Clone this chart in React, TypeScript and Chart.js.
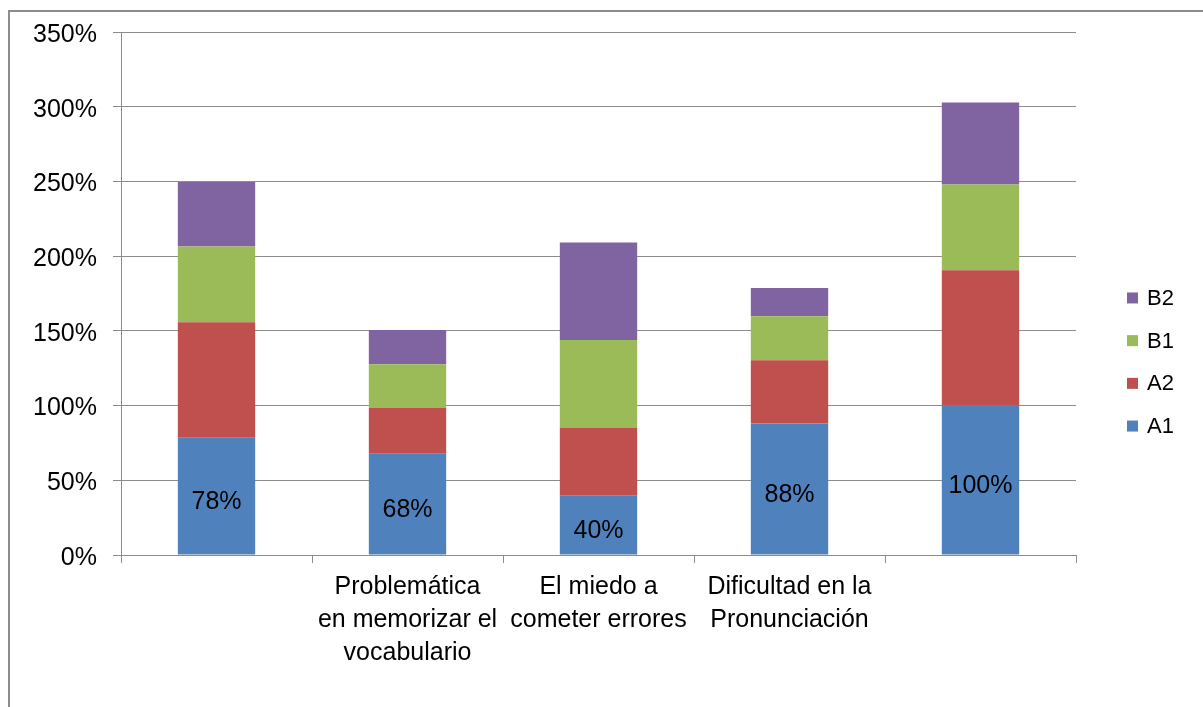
import React, { useEffect, useRef } from 'react';
import { Chart, registerables } from 'chart.js';

Chart.register(...registerables);

const categories: string[][] = [
  [''],
  ['Problemática', 'en memorizar el', 'vocabulario'],
  ['El miedo a', 'cometer errores'],
  ['Dificultad en la', 'Pronunciación'],
  [''],
];
const seriesNames = ['A1', 'A2', 'B1', 'B2'];
const seriesColors = ['#4F81BD', '#C0504D', '#9BBB59', '#8064A2'];
const a1 = [78.5, 67.8, 40, 88, 100];
const a2 = [77.3, 30.6, 45, 42.4, 90.6];
const b1 = [50.7, 29.3, 58.8, 29.4, 57.4];
const b2 = [43.1, 22.8, 65.4, 18.8, 54.9];
const a1Labels = ['78%', '68%', '40%', '88%', '100%'];
const yMin = 0;
const yMax = 350;
const yStep = 50;

const FONT = "'Liberation Sans', Arial, sans-serif";
const GRID = '#8c8c8c';

const dataLabelPlugin = {
  id: 'a1Labels',
  afterDatasetsDraw(chart: any) {
    const { ctx } = chart;
    const meta = chart.getDatasetMeta(0);
    ctx.save();
    ctx.font = `25px ${FONT}`;
    ctx.fillStyle = '#000';
    ctx.textAlign = 'center';
    ctx.textBaseline = 'middle';
    meta.data.forEach((bar: any, i: number) => {
      const { x, y, base } = bar.getProps(['x', 'y', 'base'], true);
      ctx.fillText(a1Labels[i], x, (y + base) / 2 + 6);
    });
    ctx.restore();
  },
};

const legendPlugin = {
  id: 'sideLegend',
  afterDraw(chart: any) {
    const { ctx, chartArea } = chart;
    const items = chart.data.datasets.map((d: any) => ({ label: d.label, color: d.backgroundColor })).reverse();
    const spacing = 42.7;
    const centerY = 362;
    const startY = centerY - (spacing * (items.length - 1)) / 2;
    ctx.save();
    ctx.font = `22px ${FONT}`;
    ctx.textAlign = 'left';
    ctx.textBaseline = 'middle';
    items.forEach((it: any, i: number) => {
      const cy = startY + i * spacing;
      ctx.fillStyle = it.color;
      ctx.fillRect(chartArea.right + 51, cy - 5.5, 11, 11);
      ctx.fillStyle = '#000';
      ctx.fillText(it.label, chartArea.right + 71, cy + 1);
    });
    ctx.restore();
  },
};

export default function App() {
  const canvasRef = useRef<HTMLCanvasElement | null>(null);

  useEffect(() => {
    if (!canvasRef.current) return;
    const values = [a1, a2, b1, b2];
    const chart = new Chart(canvasRef.current, {
      type: 'bar',
      data: {
        labels: categories,
        datasets: seriesNames.map((name, i) => ({
          label: name,
          data: values[i],
          backgroundColor: seriesColors[i],
          borderWidth: 0,
          categoryPercentage: 1,
          barPercentage: 0.405,
        })),
      },
      options: {
        animation: false,
        responsive: false,
        maintainAspectRatio: false,
        layout: { padding: { left: 0, top: 32, right: 127, bottom: 0 } },
        plugins: {
          legend: { display: false },
          tooltip: { enabled: false },
          title: { display: false },
        },
        scales: {
          x: {
            stacked: true,
            grid: {
              display: true,
              drawOnChartArea: false,
              drawTicks: true,
              tickLength: 8,
              color: GRID,
              lineWidth: 1,
              offset: true,
            },
            border: { display: true, color: GRID, width: 1 },
            ticks: {
              color: '#000',
              font: { family: FONT, size: 25, lineHeight: 1.32 },
              padding: 8,
              maxRotation: 0,
              minRotation: 0,
              autoSkip: false,
            },
            afterFit: (scale: any) => {
              scale.height = 707 - 555;
            },
          },
          y: {
            stacked: true,
            min: yMin,
            max: yMax,
            grid: {
              color: GRID,
              lineWidth: 1,
              drawTicks: true,
              tickLength: 8,
            },
            border: { display: true, color: GRID, width: 1 },
            ticks: {
              stepSize: yStep,
              color: '#000',
              font: { family: FONT, size: 25 },
              padding: 16,
              labelOffset: 3,
              callback: (v: any) => `${v}%`,
            },
            afterFit: (scale: any) => {
              scale.width = 121;
            },
          },
        },
      },
      plugins: [dataLabelPlugin, legendPlugin],
    });
    return () => chart.destroy();
  }, []);

  return (
    <div style={{ position: 'fixed', left: 0, top: 0, width: 1203, height: 707, background: '#fff' }}>
      <div
        style={{
          position: 'absolute',
          left: 8,
          top: 10,
          width: 1203 - 8,
          height: 707 - 10,
          boxSizing: 'border-box',
          borderLeft: '2px solid #8c8c8c',
          borderTop: '2px solid #8c8c8c',
        }}
      />
      <canvas
        ref={canvasRef}
        width={1203}
        height={707}
        style={{ position: 'absolute', left: 0, top: 0, width: 1203, height: 707 }}
      />
    </div>
  );
}
